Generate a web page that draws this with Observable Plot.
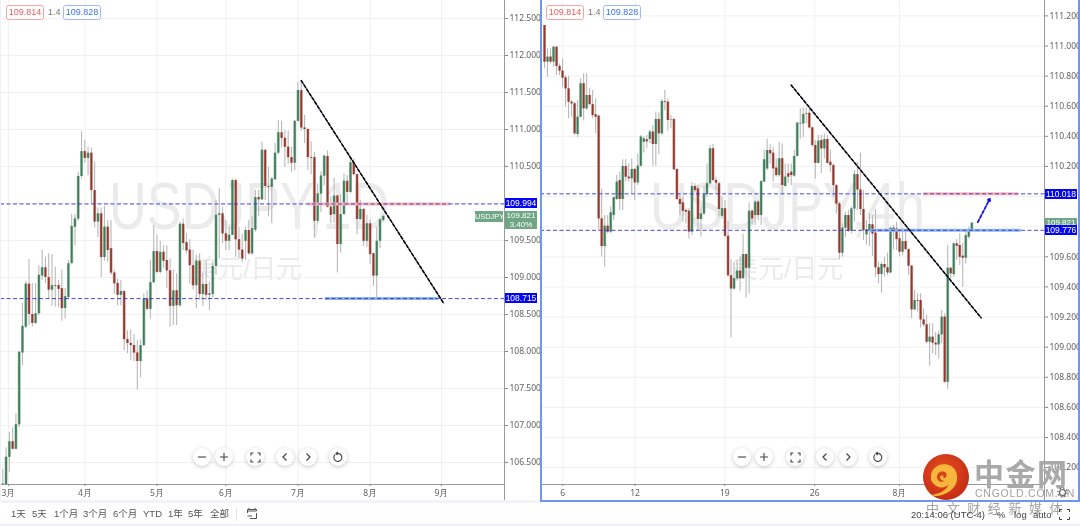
<!DOCTYPE html>
<html lang="zh">
<head>
<meta charset="utf-8">
<script src="https://cdn.jsdelivr.net/npm/d3@7"></script>
<script src="https://cdn.jsdelivr.net/npm/@observablehq/plot@0.6"></script>
<style>
html,body{margin:0;padding:0;background:#fff;overflow:hidden}
body{font-family:"Liberation Sans","Noto Sans CJK SC",sans-serif;color:#555}
#root{position:relative;width:1080px;height:526px;overflow:hidden;background:#fff;filter:blur(.3px)}
#root svg.plot-svg{position:absolute;top:0}
.abs{position:absolute;white-space:nowrap}
.wm{position:absolute;color:#ebebeb;white-space:nowrap;transform-origin:0 0;line-height:1}
.badge{position:absolute;top:5px;height:13px;width:36px;border-radius:2.5px;font-size:9px;line-height:13px;text-align:center;background:#fff}
.tag{position:absolute;color:#fff;font-size:8.5px;text-align:center;background:#0505f5;line-height:10px;height:10px}
.btn{position:absolute;top:448px;width:18px;height:18px;border-radius:50%;background:#fff;box-shadow:0 1px 4px rgba(0,0,0,.22);display:flex;align-items:center;justify-content:center}
.tb{position:absolute;top:508px;font-size:9.5px;line-height:12px;color:#555;white-space:nowrap}
</style>
</head>
<body>
<div id="root"></div>
<script>
// Each candle: [open, close, high, low]
const leftCandles = [
[106.19,106.21,106.41,106.19],[106.20,106.57,106.70,106.20],[106.57,106.78,106.91,106.37],[106.78,106.68,106.97,106.67],[106.68,107.01,107.16,106.67],
[107.01,107.99,108.00,106.97],[107.98,108.34,108.65,107.81],[108.33,108.91,108.95,108.31],[108.91,108.50,109.24,108.35],[108.50,108.38,108.92,108.33],
[108.38,108.51,108.92,108.365],[108.51,109.03,109.16,108.49],[109.02,109.13,109.365,108.96],[109.13,109.00,109.275,108.915],[109.00,108.83,109.32,108.71],
[108.83,108.89,109.31,108.61],[108.89,108.88,109.14,108.60],[108.89,108.84,108.96,108.59],[108.85,108.58,109.10,108.41],[108.58,108.74,108.85,108.44],
[108.73,109.185,109.23,108.71],[109.19,109.69,109.85,109.17],[109.68,109.79,109.85,109.43],[109.79,110.365,110.42,109.76],[110.365,110.70,110.97,110.33],
[110.70,110.61,110.85,110.54],[110.61,110.68,110.76,110.38],[110.68,110.175,110.75,110.00],[110.175,109.75,110.56,109.67],[109.75,109.86,109.94,109.54],
[109.86,109.27,109.94,109.00],[109.27,109.68,109.96,109.22],[109.68,109.365,109.77,109.21],[109.39,109.06,109.77,109.03],[109.06,108.915,109.10,108.77],
[108.92,108.76,108.98,108.62],[108.76,108.81,108.96,108.62],[108.81,108.16,108.82,108.01],[108.16,108.11,108.28,107.97],[108.11,108.08,108.29,107.88],
[108.08,107.98,108.23,107.86],[107.98,107.865,108.15,107.48],[107.865,108.08,108.16,107.645],[108.08,108.71,108.78,108.06],[108.71,108.57,108.82,108.55],
[108.57,108.93,109.23,108.44],[108.93,109.35,109.70,108.915],[109.35,109.07,109.57,109.05],[109.07,109.34,109.49,109.05],[109.34,109.22,109.43,109.12],
[109.23,109.09,109.43,108.85],[109.09,108.61,109.25,108.33],[108.61,108.82,109.10,108.35],[108.82,108.62,109.05,108.35],[108.62,109.72,109.75,108.60],
[109.72,109.46,109.79,109.365],[109.47,109.36,109.59,109.32],[109.37,109.16,109.51,108.915],[109.16,108.89,109.365,108.83],[108.89,109.22,109.30,108.58],
[109.22,108.77,109.32,108.69],[108.77,108.905,109.05,108.61],[108.905,108.76,109.23,108.69],[108.76,108.78,108.94,108.555],[108.77,109.15,109.21,108.71],
[109.15,109.84,110.04,109.03],[109.84,109.86,110.20,109.25],[109.86,109.59,109.95,109.46],[109.59,109.49,109.77,109.365],[109.49,109.57,109.68,109.365],
[109.57,110.31,110.33,109.57],[110.31,109.51,110.33,109.27],[109.51,109.37,109.68,109.25],[109.37,109.25,109.58,109.20],[109.49,109.635,109.68,109.23],
[109.635,109.32,109.77,109.30],[109.32,109.66,109.82,109.30],[109.64,110.08,110.18,109.61],[110.08,110.05,110.18,109.82],[110.05,110.72,110.83,110.04],
[110.72,110.23,110.72,110.04],[110.23,110.22,110.49,109.82],[110.22,110.33,110.355,109.725],[110.32,110.68,110.81,110.31],[110.68,110.955,111.12,110.66],
[110.955,110.88,111.11,110.75],[110.88,110.76,110.985,110.49],[110.76,110.62,110.98,110.53],[110.62,110.545,110.76,110.42],[110.545,111.11,111.12,110.445],
[111.11,111.527,111.64,111.10],[111.525,111.02,111.66,110.98],[111.02,111.00,111.19,110.81],[111.00,110.62,111.01,110.445],[110.62,110.61,110.83,110.39],
[110.62,109.76,110.69,109.535],[109.76,110.13,110.265,109.725],[110.13,110.37,110.425,109.88],[110.37,110.64,110.65,110.24],[110.635,109.95,110.71,109.94],
[109.95,109.84,110.09,109.725],[109.85,110.10,110.34,109.735],[110.10,109.445,110.11,109.06],[109.445,109.85,110.12,109.33],[109.85,110.30,110.40,109.84],
[110.30,110.15,110.38,109.97],[110.15,110.55,110.61,110.13],[110.55,110.39,110.60,110.38],[110.39,109.785,110.40,109.58],[109.785,109.92,110.04,109.77],
[109.92,109.49,109.93,109.42],[109.49,109.725,109.84,109.41],[109.725,109.31,109.78,109.18],[109.32,109.02,109.33,108.88],[109.02,109.49,109.68,108.71],
[109.49,109.78,109.79,109.39],[109.77,109.825,109.84,109.75]
];
const rightCandles = [
[111.136,110.893,111.136,110.848],[110.893,110.926,110.981,110.793],[110.926,110.893,110.981,110.881],[110.893,110.992,110.992,110.859],[110.992,110.864,110.992,110.804],
[110.864,110.833,110.881,110.804],[110.833,110.786,110.915,110.722],[110.788,110.715,110.804,110.594],[110.715,110.627,110.797,110.516],[110.627,110.616,110.638,110.527],
[110.616,110.417,110.627,110.406],[110.412,110.527,110.638,110.390],[110.527,110.749,110.782,110.523],[110.749,110.583,110.815,110.501],[110.583,110.671,110.815,110.572],
[110.671,110.611,110.720,110.605],[110.611,110.538,110.704,110.516],[110.543,110.527,110.649,110.417],[110.534,109.852,110.538,109.775],[109.852,109.668,110.051,109.598],
[109.668,109.803,109.874,109.531],[109.803,109.764,109.874,109.753],[109.764,109.892,109.930,109.753],[109.874,109.992,109.996,109.841],[109.981,110.096,110.140,109.974],
[110.107,109.981,110.162,109.908],[109.981,110.200,110.244,109.908],[110.200,110.129,110.244,110.096],[110.129,110.118,110.217,110.096],[110.118,110.180,110.251,110.018],
[110.180,110.091,110.184,109.974],[110.091,110.202,110.284,110.074],[110.202,110.395,110.406,110.195],[110.361,110.383,110.395,110.290],[110.377,110.364,110.406,110.317],
[110.379,110.428,110.439,110.350],[110.428,110.346,110.472,110.202],[110.346,110.512,110.561,110.202],[110.512,110.417,110.556,110.279],[110.417,110.631,110.645,110.406],
[110.631,110.627,110.704,110.572],[110.627,110.505,110.649,110.434],[110.512,110.510,110.538,110.450],[110.512,110.178,110.516,110.173],[110.180,109.981,110.184,109.974],
[109.981,109.947,110.018,109.874],[109.958,109.903,109.996,109.830],[109.908,109.897,109.919,109.819],[109.903,109.764,109.919,109.719],[109.764,110.067,110.091,109.742],
[110.067,110.040,110.085,110.029],[110.051,109.848,110.074,109.775],[109.848,109.885,109.930,109.731],[109.885,110.012,110.063,109.874],[110.012,110.085,110.217,109.996],
[110.085,110.317,110.339,110.085],[110.317,110.107,110.346,110.096],[110.107,110.089,110.129,110.040],[110.085,109.914,110.096,109.863],[109.870,109.919,109.996,109.852],
[109.919,109.737,109.974,109.726],[109.737,109.474,109.835,109.465],[109.474,109.387,109.580,109.062],[109.387,109.454,109.564,109.376],[109.454,109.505,109.575,109.438],
[109.505,109.454,109.598,109.372],[109.454,109.615,109.748,109.454],[109.615,109.524,109.620,109.327],[109.524,109.903,109.958,109.354],[109.903,109.852,109.912,109.808],
[109.874,109.963,109.974,109.808],[109.963,109.874,109.974,109.841],[109.874,110.100,110.107,109.808],[110.096,110.244,110.306,110.096],[110.184,110.306,110.383,110.173],
[110.306,110.284,110.344,110.217],[110.288,110.184,110.328,110.096],[110.189,110.140,110.251,110.129],[110.140,110.251,110.361,110.129],[110.251,110.074,110.350,110.018],
[110.067,110.129,110.217,110.063],[110.151,110.129,110.217,110.089],[110.162,110.140,110.217,110.074],[110.136,110.266,110.306,110.129],[110.266,110.487,110.494,110.262],
[110.483,110.487,110.583,110.383],[110.483,110.545,110.589,110.390],[110.545,110.549,110.589,110.483],[110.553,110.456,110.582,110.449],[110.456,110.339,110.461,110.328],
[110.339,110.221,110.372,110.117],[110.221,110.368,110.405,110.217],[110.372,110.317,110.405,110.151],[110.317,110.379,110.416,110.250],[110.379,110.221,110.405,110.217],
[110.228,110.206,110.310,110.162],[110.206,110.073,110.217,109.996],[110.073,109.951,110.078,109.885],[109.951,109.624,109.963,109.580],[109.624,109.790,109.819,109.597],
[109.790,109.874,109.896,109.730],[109.874,109.770,109.907,109.763],[109.770,109.918,109.929,109.752],[109.918,110.146,110.173,109.830],[110.146,110.044,110.228,109.907],
[110.044,109.914,110.288,109.874],[109.914,109.774,110.040,109.708],[109.746,109.779,109.841,109.679],[109.774,109.814,109.885,109.668],[109.812,109.752,109.874,109.602],
[109.757,109.527,109.912,109.465],[109.527,109.482,109.564,109.420],[109.482,109.549,109.564,109.358],[109.549,109.527,109.597,109.465],[109.527,109.493,109.624,109.476],
[109.493,109.790,109.797,109.487],[109.790,109.779,109.808,109.646],[109.785,109.715,109.830,109.642],[109.719,109.631,109.774,109.602],[109.631,109.701,109.774,109.608],
[109.701,109.648,109.763,109.642],[109.648,109.538,109.653,109.476],[109.538,109.248,109.542,109.188],[109.248,109.310,109.376,109.243],[109.310,109.305,109.354,109.232],
[109.310,109.181,109.354,109.128],[109.181,109.148,109.254,109.133],[109.148,109.033,109.210,109.022],[109.033,109.066,109.155,108.874],[109.066,109.026,109.155,108.955],
[109.026,109.015,109.099,108.944],[109.015,109.082,109.106,108.922],[109.082,109.199,109.243,109.022],[109.199,108.767,109.221,108.761],[108.767,109.524,109.675,108.719],
[109.524,109.487,109.531,109.453],[109.482,109.686,109.690,109.465],[109.686,109.670,109.715,109.575],[109.675,109.597,109.752,109.542],[109.604,109.591,109.686,109.398],
[109.591,109.741,109.774,109.553],[109.730,109.779,109.797,109.719],[109.779,109.823,109.830,109.770]
];
const leftGridTicks = [106.5,107,107.5,108,108.5,109,109.5,110,110.5,111,111.5,112,112.5];
const leftPriceTicks = [106.5,107,107.5,108,108.5,109,109.5,110.5,111,111.5,112,112.5];
const rightGridTicks = [108.2,108.4,108.6,108.8,109,109.2,109.4,109.6,109.8,110,110.2,110.4,110.6,110.8,111,111.2];
const rightPriceTicks = [108.2,108.4,108.6,108.8,109,109.2,109.4,109.6,110.2,110.4,110.6,110.8,111,111.2];
const leftTimeTicks = [1.74,25.06,47,68,90,112,133.75];
const leftTimeLabels = ["3月","4月","5月","6月","7月","8月","9月"];
const rightTimeTicks = [6.08,30.1,59.9,89.8,118];
const rightTimeLabels = ["6","12","19","26","8月"];
const leftLevels = [109.994,108.715];
const rightLevels = [110.018,109.776];
const leftTrend = [[91,111.66],[134.5,108.645]];
const rightTrend = [[82,110.74],[145.1,109.195]];
const rightArrow = [[144,109.83],[147,109.946],[148,109.985]];
const leftZones = [[93.2,136.5,109.994,"#fbb6b2"],[98.4,132.8,108.715,"#8fb7ea"]];
const rightZones = [[126,157.5,110.018,"#fbb6b2"],[108.3,158.5,109.776,"#8fb7ea"]];
const rangeButtons = [["1天",11],["5天",32],["1个月",54],["3个月",83],["6个月",113],["YTD",143],["1年",168],["5年",188],["全部",210]];

const GREEN="#3d7d59", RED="#94372b";
const fmt = d3.format(".3f");

function panel(cfg){
  const rows = cfg.candles.map((c,i)=>({i,o:c[0],c:c[1],h:c[2],l:c[3],col:c[1]>=c[0]?GREEN:RED}));
  const trend = cfg.trend;
  const marks = [
    Plot.gridY(cfg.gridTicks,{stroke:"#f1f1f1",strokeOpacity:1}),
    Plot.gridX(cfg.timeTicks,{stroke:"#f1f1f1",strokeOpacity:1}),
    Plot.ruleX(rows,{x:"i",y1:"l",y2:"h",stroke:"#b9b9b9",strokeWidth:1.1}),
    Plot.ruleX(rows,{x:"i",y1:"o",y2:"c",stroke:"col",strokeWidth:3,strokeOpacity:.45}),
    Plot.ruleX(rows,{x:"i",y1:"o",y2:"c",stroke:"col",strokeWidth:1.7}),
    Plot.ruleY(cfg.zones,{y:d=>d[2],x1:d=>d[0],x2:d=>d[1],stroke:d=>d[3],strokeWidth:3}),
    Plot.ruleY(cfg.levels,{stroke:"#3030d8",strokeWidth:.9,strokeDasharray:"4,2.5"}),
    Plot.line(trend,{x:d=>d[0],y:d=>d[1],stroke:"#7a7ae8",strokeWidth:.9}),
    Plot.line(trend,{x:d=>d[0],y:d=>d[1],stroke:"#000",strokeWidth:1.6,strokeDasharray:"3,2"}),
    Plot.ruleY([cfg.yDomain[0]],{stroke:"#9a9a9a",strokeWidth:1.2}),
    Plot.axisY(cfg.priceTicks,{anchor:"right",tickSize:3,tickPadding:2,tickFormat:fmt,fontSize:8.5,stroke:"#888",fill:"#606060",label:null}),
    Plot.axisX(cfg.timeTicks,{anchor:"bottom",tickSize:2,tickPadding:3,tickFormat:(d,i)=>cfg.timeLabels[i],fontSize:8.5,stroke:"#888",fill:"#606060",label:null})
  ];
  if(cfg.arrow){
    const a=cfg.arrow;
    marks.push(Plot.line(a.slice(0,2),{x:d=>d[0],y:d=>d[1],stroke:"#1414e6",strokeWidth:1.8,strokeDasharray:"3,2"}));
    marks.push(Plot.arrow([[a[1],a[2]]],{x1:d=>d[0][0],y1:d=>d[0][1],x2:d=>d[1][0],y2:d=>d[1][1],stroke:"#1414e6",strokeWidth:1.8,headLength:9,headAngle:70,bend:0}));
  }
  const svg = Plot.plot({
    width:540,height:526,marginLeft:0,marginRight:36,marginTop:0,marginBottom:42,
    x:{type:"linear",domain:cfg.xDomain},
    y:{type:"linear",domain:cfg.yDomain},
    style:{background:"transparent",overflow:"visible"},
    marks
  });
  svg.classList.add("plot-svg");
  svg.style.left=cfg.left+"px";
  svg.style.position="absolute";
  svg.style.top="0";
  return svg;
}

const root=document.getElementById("root");
function add(html){root.insertAdjacentHTML("beforeend",html);}

// watermarks (under the candles)
add(`<div class="wm" style="left:109px;top:173px;font-size:66px;transform:scaleX(.79)">USDJPY,1D</div>`);
add(`<div class="wm" style="left:191px;top:256px;font-size:26px;">美元/日元</div>`);
add(`<div class="wm" style="left:650px;top:173px;font-size:66px;transform:scaleX(.80)">USDJPY,4h</div>`);
add(`<div class="wm" style="left:732px;top:256px;font-size:26px;">美元/日元</div>`);

root.appendChild(panel({left:0,candles:leftCandles,gridTicks:leftGridTicks,priceTicks:leftPriceTicks,timeTicks:leftTimeTicks,timeLabels:leftTimeLabels,
  levels:leftLevels,zones:leftZones,trend:leftTrend,xDomain:[-0.70,152.95],yDomain:[106.203,112.743]}));
root.appendChild(panel({left:540,candles:rightCandles,gridTicks:rightGridTicks,priceTicks:rightPriceTicks,timeTicks:rightTimeTicks,timeLabels:rightTimeLabels,
  levels:rightLevels,zones:rightZones,trend:rightTrend,arrow:rightArrow,xDomain:[-1.33,166.17],yDomain:[108.088,111.302]}));

// chrome: axis spines, frames, strips
add(`<div class="abs" style="left:504px;top:0;width:1.4px;height:502px;background:#9a9a9a"></div>`);
add(`<div class="abs" style="left:1044px;top:0;width:1.4px;height:500px;background:#9a9a9a"></div>`);
add(`<div class="abs" style="left:0;top:0;width:1px;height:500px;background:#eef0f8"></div>`);
add(`<div class="abs" style="left:0;top:500px;width:540px;height:3px;background:#f2f3f8"></div>`);
add(`<div class="abs" style="left:0;top:524px;width:1080px;height:2px;background:#eff1f7"></div>`);
add(`<div class="abs" style="left:540px;top:0;width:2px;height:502px;background:#6f97f0"></div>`);
add(`<div class="abs" style="left:540px;top:500px;width:539px;height:2px;background:#6f97f0"></div>`);
add(`<div class="abs" style="left:1078px;top:0;width:2px;height:502px;background:#6f97f0"></div>`);

// badges
for(const dx of [0,540]){
  add(`<div class="badge" style="left:${6+dx}px;border:1px solid #f9a3a3;color:#f05a5a">109.814</div>`);
  add(`<div class="abs" style="left:${48+dx}px;top:6px;font-size:9px;line-height:13px;color:#777">1.4</div>`);
  add(`<div class="badge" style="left:${63+dx}px;border:1px solid #9db8fb;color:#3b74f0">109.828</div>`);
}

// price tags
add(`<div class="abs" style="left:475px;top:211px;width:28px;height:11px;background:#6fa685;color:#fff;font-size:7.4px;line-height:11px;text-align:center">USDJPY</div>`);
add(`<div class="abs" style="left:505px;top:211px;width:32px;height:18px;background:#6fa685;color:#fff;font-size:8px;line-height:9px;text-align:center">109.821<br>3.40%</div>`);
add(`<div class="tag" style="left:505px;top:198px;width:32px">109.994</div>`);
add(`<div class="tag" style="left:505px;top:293px;width:32px">108.715</div>`);
add(`<div class="abs" style="left:1045px;top:218px;width:32px;height:8px;background:#6fa685;color:#fff;font-size:8px;line-height:10px;text-align:center;overflow:hidden">109.821</div>`);
add(`<div class="tag" style="left:1045px;top:189px;width:32px">110.018</div>`);
add(`<div class="tag" style="left:1045px;top:225px;width:32px">109.776</div>`);

// zoom buttons
const icons={
 minus:`<svg width="10" height="10"><path d="M1 5H9" stroke="#444" stroke-width="1.1"/></svg>`,
 plus:`<svg width="10" height="10"><path d="M1 5H9M5 1V9" stroke="#444" stroke-width="1.1"/></svg>`,
 full:`<svg width="11" height="11"><path d="M1 3.5V1H3.5M7.5 1H10V3.5M10 7.5V10H7.5M3.5 10H1V7.5" fill="none" stroke="#444" stroke-width="1.2"/></svg>`,
 prev:`<svg width="10" height="10"><path d="M6.5 1.5L3 5L6.5 8.5" fill="none" stroke="#444" stroke-width="1.2"/></svg>`,
 next:`<svg width="10" height="10"><path d="M3.5 1.5L7 5L3.5 8.5" fill="none" stroke="#444" stroke-width="1.2"/></svg>`,
 reset:`<svg width="12" height="12"><path d="M3.2 3.4A4 4 0 1 0 6 2.4H4.4M5.6 .8L4 2.4L5.6 4" fill="none" stroke="#444" stroke-width="1.1"/></svg>`
};
const btnKeys=["minus","plus","full","prev","next","reset"];
const btnX=[202,224,255,285,307.5,337.5];
for(const dx of [0,540]) btnKeys.forEach((k,i)=>add(`<div class="btn" style="left:${btnX[i]-9+dx}px">${icons[k]}</div>`));

// range toolbar
rangeButtons.forEach(([t,x])=>add(`<div class="tb" style="left:${x}px">${t}</div>`));
add(`<div class="abs" style="left:236px;top:507px;width:1px;height:14px;background:#e6e6e6"></div>`);
add(`<svg class="abs" style="left:246px;top:507px" width="12" height="13"><path d="M1.5 4V2.5H10.5V4H1.5V6M3 .8V3M9 .8V3M10.5 6V11.5H4M1.5 9H6" fill="none" stroke="#555" stroke-width="1"/></svg>`);

// logo
add(`<svg class="abs" style="left:922px;top:453px" width="48" height="48">
<defs><radialGradient id="lg" cx=".45" cy=".4" r=".65"><stop offset="0" stop-color="#e8501f"/><stop offset="1" stop-color="#c22a14"/></radialGradient></defs>
<circle cx="24" cy="24" r="23" fill="url(#lg)"/>
<path d="M9 25C8 14 20 8 29 13C37 18 38 31 28 38C21 43 13 44 9 42C17 41 24 38 27 31C24 35 16 36 12 31C9 28 9 27 9 25Z" fill="#f6b73c"/>
<path d="M15 24C15 19 21 17 24 20C26 23 23 26 21 25C23 23 20 21 18 24C18 26 20 28 23 28C19 30 15 28 15 24Z" fill="#d7431b"/>
</svg>`);
add(`<div class="abs" style="left:974px;top:455px;font-size:30px;line-height:34px;font-weight:700;color:#a9a9a9;letter-spacing:1.5px;font-family:'Noto Sans CJK SC'">中金网</div>`);
add(`<div class="abs" style="left:975px;top:487px;font-size:10.5px;line-height:12px;color:#a0a0a0;letter-spacing:.75px">CNGOLD.COM.CN</div>`);
add(`<div class="abs" style="left:926px;top:500px;font-size:13px;line-height:15px;color:#a3a3a3;letter-spacing:7.6px;font-family:'Noto Sans CJK SC'">中文财经新媒体</div>`);

// status bar, drawn last: it sits over the watermark text as in the reference
add(`<div class="tb" style="left:911px;top:509px;color:#444">20:14:06 (UTC-4)</div>`);
add(`<div class="tb" style="left:997px;top:509px;color:#444">%</div><div class="tb" style="left:1014px;top:509px;color:#444">log</div><div class="tb" style="left:1033px;top:509px;color:#444">auto</div>`);
add(`<svg class="abs" style="left:1059px;top:509px" width="11" height="11"><path d="M.5 3V.5H3M8 .5H10.5V3M10.5 8V10.5H8M3 10.5H.5V8" fill="none" stroke="#444" stroke-width="1"/></svg>`);
add(`<svg class="abs" style="left:1057px;top:487px" width="11" height="11"><circle cx="5.5" cy="5.5" r="3" fill="none" stroke="#666" stroke-width="1.2"/><circle cx="5.5" cy="5.5" r="4.6" fill="none" stroke="#666" stroke-width="1.2" stroke-dasharray="1.6,2"/></svg>`);
</script>
</body>
</html>
